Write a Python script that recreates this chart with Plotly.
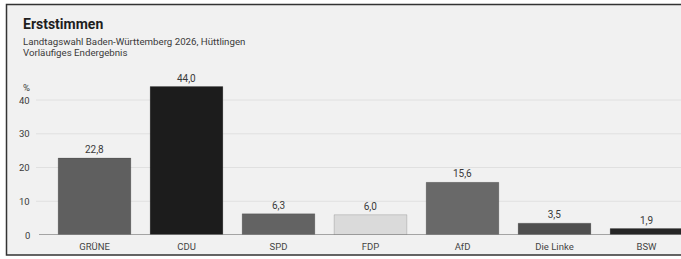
import plotly.graph_objects as go

W, H = 681, 259

parties = ["GRÜNE", "CDU", "SPD", "FDP", "AfD", "Die Linke", "BSW"]
shares = [22.8, 44.0, 6.3, 6.0, 15.6, 3.5, 1.9]
bar_colors = ["#5f5f5f", "#1c1c1c", "#636363", "#dadada", "#696969", "#4f4f4f", "#262626"]
y_ticks = [0, 10, 20, 30, 40]

title = "Erststimmen"
subtitle1 = "Landtagswahl Baden-Württemberg 2026, Hüttlingen"
subtitle2 = "Vorläufiges Endergebnis"

FONT = "Roboto"

# layout geometry (pixels)
x_left = 48.5
cat_w = 92.0
y0_px = 235.0
px_per_unit = 135.0 / 40.0
y_top_val = 46.0

fig = go.Figure()
fig.add_trace(go.Bar(
    x=parties, y=shares,
    marker=dict(color=bar_colors, line=dict(color="rgba(0,0,0,0.25)", width=0.6)),
    texttemplate="%{y:.1f}", textposition="outside",
    textfont=dict(family=FONT, size=10, color="#3a3a3a"),
    cliponaxis=False, width=0.79,
))

y_dom0 = (H - y0_px) / H
y_dom1 = (H - (y0_px - y_top_val * px_per_unit)) / H
x_range_max = -0.5 + (W - x_left) / cat_w

shapes = [
    dict(type="rect", xref="paper", yref="paper",
         x0=6.5 / W, x1=1.1, y0=(H - 255) / H, y1=(H - 4.5) / H,
         fillcolor="#f1f1f1", line=dict(color="#333333", width=1.5), layer="below"),
]
for t in y_ticks[1:]:
    shapes.append(dict(type="line", xref="paper", yref="y", x0=36 / W, x1=1.0, y0=t, y1=t,
                       line=dict(color="#e0e0e0", width=1), layer="below"))
shapes.append(dict(type="line", xref="paper", yref="y", x0=39 / W, x1=1.0, y0=0, y1=0,
                   line=dict(color="#8a8a8a", width=1.5), layer="above"))

annotations = [
    dict(text="<b>" + title + "</b>", xref="paper", yref="paper", x=21 / W, y=(H - 24) / H,
         xanchor="left", yanchor="middle", showarrow=False,
         font=dict(family=FONT, size=14, color="#1e1e1e")),
    dict(text=subtitle1, xref="paper", yref="paper", x=21 / W, y=(H - 41) / H,
         xanchor="left", yanchor="middle", showarrow=False,
         font=dict(family=FONT, size=9.7, color="#3a3a3a")),
    dict(text=subtitle2, xref="paper", yref="paper", x=21 / W, y=(H - 52) / H,
         xanchor="left", yanchor="middle", showarrow=False,
         font=dict(family=FONT, size=9.7, color="#3a3a3a")),
    dict(text="%", xref="paper", yref="paper", x=21 / W, y=(H - 87) / H,
         xanchor="left", yanchor="middle", showarrow=False,
         font=dict(family=FONT, size=9.5, color="#3a3a3a")),
]
for t in y_ticks:
    annotations.append(dict(text=str(t), xref="paper", yref="y", x=32 / W, y=t,
                            xanchor="right", yanchor="middle", showarrow=False,
                            font=dict(family=FONT, size=9.5, color="#3a3a3a")))

fig.update_layout(
    width=W, height=H,
    margin=dict(l=0, r=0, t=0, b=0),
    paper_bgcolor="white", plot_bgcolor="rgba(0,0,0,0)",
    separators=",.",
    showlegend=False,
    bargap=0.2,
    xaxis=dict(domain=[x_left / W, 1.0], range=[-0.5, x_range_max], showgrid=False,
               zeroline=False, showline=False, ticks="", ticklabelstandoff=4,
               tickfont=dict(family=FONT, size=9.5, color="#444"), fixedrange=True),
    yaxis=dict(domain=[y_dom0, y_dom1], range=[0, y_top_val], showgrid=False,
               zeroline=False, showline=False, showticklabels=False, fixedrange=True),
    shapes=shapes, annotations=annotations,
)

fig.write_html(
    "out.html",
    config={"displayModeBar": False},
    post_script="document.body.style.margin='0';document.body.style.overflow='hidden';",
)
